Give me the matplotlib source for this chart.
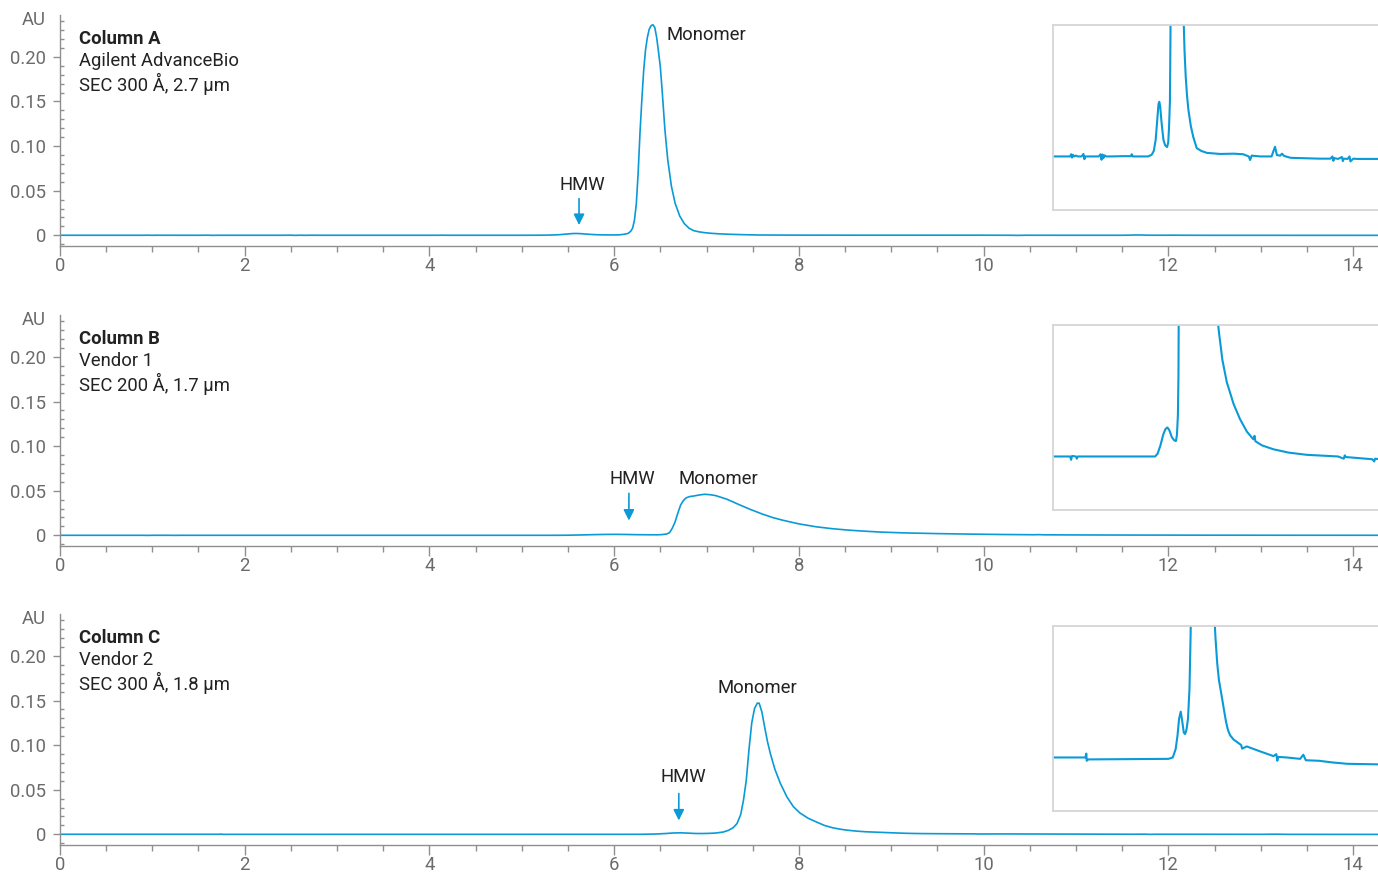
import numpy as np
import matplotlib
matplotlib.use("Agg")
import matplotlib.pyplot as plt
from matplotlib.ticker import MultipleLocator

plt.rcParams['font.family'] = ['Roboto', 'DejaVu Sans']

BLUE = '#0a9ad7'
GRAY = '#8f8f8f'
TXT = '#6b6b6b'
FS = 13.3

# chromatogram A (min, AU)
t_a = [0, 0.9, 0.95, 1.0, 1.05, 1.1, 1.2, 1.3, 1.5, 1.6, 1.65, 1.7, 2.0, 2.4, 2.5, 2.55, 2.6, 2.65,
       2.7, 2.8, 3.0, 3.7, 4.1, 4.14, 4.2, 5.0, 5.19, 5.3, 5.4, 5.48, 5.55, 5.59, 5.64, 5.7, 5.76,
       5.81, 5.9, 6.0, 6.06, 6.1, 6.15, 6.18, 6.20, 6.22, 6.24, 6.26, 6.28, 6.30, 6.32, 6.34, 6.36,
       6.38, 6.40, 6.42, 6.44, 6.46, 6.48, 6.50, 6.52, 6.55, 6.58, 6.62, 6.66, 6.71, 6.76, 6.81,
       6.86, 6.92, 6.98, 7.05, 7.12, 7.25, 7.38, 7.56, 7.8, 8.09, 8.79, 9.5, 10.0, 10.3, 10.37,
       10.45, 10.9, 11.5, 11.6, 11.68, 11.78, 11.95, 12.05, 12.15, 12.5, 14.0, 14.6, 14.7, 14.75,
       14.8, 15.0, 15.2, 15.25, 15.3, 15.5, 15.6, 15.65, 15.8, 16.0, 17.2]
au_a = [0, 0, 0.00008, -0.00004, 0.00006, 0, 0.00003, 0, 0, 0.00009, -0.0001, 0, 0, 0, 0.00008,
        -0.00012, 0.00007, -0.00006, 0.00004, 0, 0, 0.00001, 0.00001, 0.00008, 0, 0, 0.00006,
        0.0002, 0.0006, 0.0013, 0.0019, 0.00198, 0.0018, 0.0013, 0.0009, 0.0006, 0.0004, 0.00034,
        0.0005, 0.001, 0.002, 0.0045, 0.008, 0.017, 0.035, 0.07, 0.115, 0.152, 0.185, 0.208, 0.222,
        0.231, 0.235, 0.236, 0.233, 0.222, 0.206, 0.189, 0.162, 0.118, 0.085, 0.055, 0.036, 0.0216,
        0.013, 0.008, 0.0052, 0.0038, 0.0029, 0.0022, 0.0017, 0.0011, 0.0007, 0.0003, 0.0002,
        0.00013, 0.00009, 0.0001, 0.00008, 0.0, -0.00013, 0.00003, 0.0, 0.0, 0.0002, 0.00035,
        0.00005, 0.00003, 0.0001, 0.00002, -0.00005, -0.00008, -0.00008, 0.0, -0.00016, -0.00006,
        -0.00009, -0.00002, -0.00017, -0.00008, -0.00009, 0.0, -0.00018, -0.00008, -0.00009,
        -0.00009]

# chromatogram B
t_b = [0, 0.9, 0.95, 1.0, 1.2, 1.25, 1.3, 5.37, 5.5, 5.65, 5.8, 5.92, 6.02, 6.12, 6.25, 6.38,
       6.47, 6.52, 6.57, 6.60, 6.63, 6.66, 6.69, 6.72, 6.75, 6.78, 6.82, 6.86, 6.92, 6.98, 7.04,
       7.1, 7.22, 7.35, 7.47, 7.6, 7.72, 7.83, 8.0, 8.19, 8.37, 8.55, 8.73, 8.91, 9.14, 9.5, 9.84,
       10.2, 10.54, 10.6, 10.65, 11.0, 11.6, 12.4, 13.35, 15.0, 15.3, 15.35, 15.4, 16.8, 16.9,
       16.95, 17.2]
au_b = [0, 0, -0.00012, 0.00002, 0, -0.00008, 0, 0, 0.0001, 0.0004, 0.0008, 0.001, 0.00105,
        0.00095, 0.0007, 0.00058, 0.00056, 0.0008, 0.0015, 0.003, 0.008, 0.015, 0.025, 0.034,
        0.039, 0.042, 0.0435, 0.044, 0.0452, 0.046, 0.0455, 0.0445, 0.0405, 0.0345, 0.0292, 0.024,
        0.0198, 0.0168, 0.0128, 0.0095, 0.0073, 0.0057, 0.0045, 0.0035, 0.0027, 0.0019, 0.00135,
        0.0009, 0.00062, 0.00075, 0.00055, 0.0004, 0.00026, 0.00014, 0.00006, 0.0, -0.00008,
        0.00004, -0.00002, -0.0001, -0.00018, -0.00008, -0.0001]

# chromatogram C
t_c = [0, 1.7, 1.75, 1.77, 1.85, 6.07, 6.3, 6.45, 6.55, 6.63, 6.72, 6.8, 6.88, 6.95, 7.02, 7.1,
       7.18, 7.24, 7.29, 7.33, 7.37, 7.40, 7.43, 7.46, 7.49, 7.52, 7.55, 7.57, 7.60, 7.63, 7.66,
       7.69, 7.74, 7.80, 7.87, 7.94, 8.01, 8.1, 8.19, 8.28, 8.37, 8.46, 8.55, 8.64, 8.73, 8.88,
       9.0, 9.1, 9.2, 9.32, 9.5, 9.7, 9.9, 9.95, 10.19, 10.9, 11.6, 11.75, 11.8, 11.85, 12.3,
       13.0, 13.17, 13.3, 14.0, 14.7, 15.5, 17.2]
au_c = [0, 0, 0.00014, -0.00012, -0.00007, -0.00005, 0.0, 0.0003, 0.0008, 0.0014, 0.00166,
        0.0013, 0.0009, 0.00085, 0.001, 0.0014, 0.0025, 0.0045, 0.0075, 0.012, 0.022, 0.038, 0.06,
        0.095, 0.125, 0.141, 0.147, 0.147, 0.137, 0.12, 0.104, 0.091, 0.073, 0.057, 0.042, 0.031,
        0.024, 0.018, 0.0138, 0.0098, 0.0072, 0.0055, 0.0043, 0.0034, 0.0028, 0.0022, 0.0017,
        0.0013, 0.001, 0.0008, 0.00065, 0.00055, 0.00045, 0.00032, 0.0004, 0.00022, 0.00005,
        0.00012, -0.00012, 0.00002, 0.0, -0.00005, 0.0001, -0.0001, -0.00012, -0.00018, -0.00023,
        -0.00025]

series = [(t_a, au_a), (t_b, au_b), (t_c, au_c)]
titles = ['Column A', 'Column B', 'Column C']
descr = [('Agilent AdvanceBio', 'SEC 300 Å, 2.7 µm'),
         ('Vendor 1', 'SEC 200 Å, 1.7 µm'),
         ('Vendor 2', 'SEC 300 Å, 1.8 µm')]
# label x, y ; arrow x, top, bottom
hmw = [(5.66, 0.056, 5.62, 0.041, 0.0115),
       (6.20, 0.0626, 6.16, 0.047, 0.0165),
       (6.75, 0.064, 6.70, 0.0457, 0.0155)]
mono = [(6.57, 0.225, 'left'), (6.70, 0.0626, 'left'), (7.55, 0.164, 'center')]

fig = plt.figure(figsize=(13.78, 8.75), dpi=100)
bottoms = [0.7189, 0.376, 0.0343]
inset_bottoms = [0.76, 0.4171, 0.0731]

for i, (t, au) in enumerate(series):
    ax = fig.add_axes([0.0435, bottoms[i], 0.9565, 0.264])
    ax.plot(t, au, color=BLUE, lw=1.2)
    ax.set_xlim(0, 14.27)
    ax.set_ylim(-0.012, 0.247)
    for s in ['top', 'right']:
        ax.spines[s].set_visible(False)
    for s in ['left', 'bottom']:
        ax.spines[s].set_color(GRAY)
        ax.spines[s].set_linewidth(1.0)
    ax.set_xticks(np.arange(0, 15, 2))
    ax.xaxis.set_minor_locator(MultipleLocator(0.5))
    ax.set_yticks([0, 0.05, 0.10, 0.15, 0.20])
    ax.set_yticklabels(['0', '0.05', '0.10', '0.15', '0.20'])
    ax.yaxis.set_minor_locator(MultipleLocator(0.01))
    ax.tick_params(axis='x', which='major', direction='out', length=7, width=1, color=GRAY,
                   labelsize=FS, labelcolor=TXT, pad=1)
    ax.tick_params(axis='x', which='minor', direction='out', length=4, width=1, color=GRAY)
    ax.tick_params(axis='y', which='major', direction='out', length=5, width=1, color=GRAY,
                   labelsize=FS, labelcolor=TXT, pad=5)
    ax.tick_params(axis='y', which='minor', direction='in', length=3, width=1, color=GRAY)
    ax.text(-0.0105, 0.241, 'AU', transform=ax.get_yaxis_transform(), ha='right', va='center',
            fontsize=FS, color=TXT)

    ax.text(0.0144, 0.896, titles[i], transform=ax.transAxes, fontsize=FS, fontweight='bold',
            color='#222222', va='center')
    ax.text(0.0144, 0.799, descr[i][0], transform=ax.transAxes, fontsize=FS,
            color='#222222', va='center')
    ax.text(0.0144, 0.703, descr[i][1], transform=ax.transAxes, fontsize=FS,
            color='#222222', va='center')

    hx, hy, ax_x, a_top, a_bot = hmw[i]
    ax.text(hx, hy, 'HMW', fontsize=FS, color='#222222', ha='center', va='center')
    ax.annotate('', xy=(ax_x, a_bot), xytext=(ax_x, a_top),
                arrowprops=dict(arrowstyle='-|>', color=BLUE, lw=1.2, mutation_scale=16,
                                shrinkA=0, shrinkB=0))
    mx, my, mha = mono[i]
    ax.text(mx, my, 'Monomer', fontsize=FS, color='#222222', ha=mha, va='center')

    ins = fig.add_axes([0.7642, inset_bottoms[i], 0.2358, 0.2114])
    ins.plot(t, au, color=BLUE, lw=1.5)
    ins.set_xlim(0, 17.1)
    ins.set_ylim(-0.00194, 0.00476)
    ins.set_xticks([])
    ins.set_yticks([])
    ins.spines['right'].set_visible(False)
    for s in ['top', 'left', 'bottom']:
        ins.spines[s].set_color('#d6d6d6')
        ins.spines[s].set_linewidth(1.3)

fig.savefig('out.png', dpi=100)
